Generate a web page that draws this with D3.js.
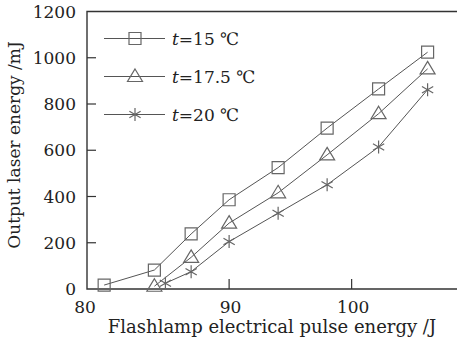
<!DOCTYPE html>
<html lang="en">
<head>
  <meta charset="UTF-8">
  <title>Output laser energy</title>
  <style type="text/css">
    body {
        margin: 0;
        padding: 0;
        background: #fff;
    }
    text {
        font-family: "DejaVu Serif", serif;
        fill: #222;
    }
  </style>
  <script src="https://cdn.jsdelivr.net/npm/d3@7"></script>
</head>
<body>
<div id="chart"></div>
<script>
// values (x axis drawn from ~78.4 J, the first label says 80)
var energy15  = [79.8, 83.9, 86.9, 90, 94, 98, 102.2, 106.2]
var output15  = [17, 82, 238, 386, 525, 696, 865, 1024]
var energy175 = [83.9, 86.9, 90, 94, 98, 102.2, 106.2]
var output175 = [12, 137, 285, 416, 580, 758, 952]
var energy20  = [84.8, 86.9, 90, 94, 98, 102.2, 106.2]
var output20  = [25, 75, 205, 328, 451, 614, 862]

var seriesNames = ["15", "17.5", "20"]
var markerKinds = ["square", "triangle", "star"]
var xTickValues = [90, 100]
var xTickLabels = ["90", "100"]
var yTickValues = [0, 200, 400, 600, 800, 1000, 1200]

var w = 457, h = 346
var plotL = 87, plotT = 11.5, plotR = 457, plotB = 289
var fs = 17

var svg = d3.select("#chart")
            .append("svg")
            .attr("width", w)
            .attr("height", h)

var x = d3.scaleLinear().domain([78.4, 108.6]).range([plotL, plotR])
var y = d3.scaleLinear().domain([0, 1200]).range([plotB, plotT])

// frame: left, bottom and top lines, no right side
svg.append("path")
   .attr("d", "M" + plotR + "," + plotT + "H" + plotL + "V" + plotB + "H" + plotR)
   .attr("fill", "none")
   .attr("stroke", "#333")
   .attr("stroke-width", 1.4)

// y ticks, inward
svg.selectAll(".ytick")
   .data(yTickValues.slice(1, -1))
   .enter()
   .append("line")
   .attr("x1", plotL).attr("x2", plotL + 9)
   .attr("y1", function(d) { return y(d) })
   .attr("y2", function(d) { return y(d) })
   .attr("stroke", "#333")
   .attr("stroke-width", 1.2)

svg.selectAll(".ylab")
   .data(yTickValues)
   .enter()
   .append("text")
   .attr("x", plotL - 11)
   .attr("y", function(d) { return y(d) + 6 })
   .attr("text-anchor", "end")
   .attr("font-size", fs)
   .text(function(d) { return d })

// x ticks, inward
svg.selectAll(".xtick")
   .data(xTickValues)
   .enter()
   .append("line")
   .attr("x1", function(d) { return x(d) })
   .attr("x2", function(d) { return x(d) })
   .attr("y1", plotB).attr("y2", plotB - 10)
   .attr("stroke", "#333")
   .attr("stroke-width", 1.2)

svg.selectAll(".xlab")
   .data(xTickValues)
   .enter()
   .append("text")
   .attr("x", function(d) { return x(d) + 1.5 })
   .attr("y", 313)
   .attr("text-anchor", "middle")
   .attr("font-size", fs)
   .text(function(d, i) { return xTickLabels[i] })

// the "80" label sits under the corner of the axes
svg.append("text")
   .attr("x", x.range()[0] - 2)
   .attr("y", 313)
   .attr("text-anchor", "middle")
   .attr("font-size", fs)
   .text("80")

svg.append("text")
   .attr("x", 272)
   .attr("y", 333)
   .attr("text-anchor", "middle")
   .attr("font-size", 18)
   .text("Flashlamp electrical pulse energy /J")

svg.append("text")
   .attr("transform", "translate(20,145) rotate(-90)")
   .attr("text-anchor", "middle")
   .attr("font-size", fs)
   .text("Output laser energy /mJ")

// marker shapes
var markerPath = function(kind) {
  if (kind == "square") return "M-6,-6H6V6H-6Z"
  if (kind == "triangle") return "M0,-7.5L7.5,5L-7.5,5Z"
  var p = ""
  ;[90, 30, 150].forEach(function(a) {
    var r = a * Math.PI / 180, dx = 6.5 * Math.cos(r), dy = 6.5 * Math.sin(r)
    p += "M" + (-dx) + "," + (-dy) + "L" + dx + "," + dy
  })
  return p
}

var series = [
  {xs: energy15,  ys: output15},
  {xs: energy175, ys: output175},
  {xs: energy20,  ys: output20}
]

var line = d3.line()
             .x(function(d) { return x(d[0]) })
             .y(function(d) { return y(d[1]) })

series.forEach(function(s, k) {
  var pts = d3.zip(s.xs, s.ys)
  svg.append("path")
     .attr("d", line(pts))
     .attr("fill", "none")
     .attr("stroke", "#555")
     .attr("stroke-width", 1)

  svg.selectAll(".m" + k)
     .data(pts)
     .enter()
     .append("path")
     .attr("transform", function(d) { return "translate(" + x(d[0]) + "," + y(d[1]) + ")" })
     .attr("d", markerPath(markerKinds[k]))
     .attr("fill", "none")
     .attr("stroke", "#666")
     .attr("stroke-width", 1.2)
})

// legend
var legend = svg.append("g")
seriesNames.forEach(function(name, k) {
  var ly = 38.5 + k * 38
  legend.append("line")
        .attr("x1", 104).attr("x2", 165)
        .attr("y1", ly).attr("y2", ly)
        .attr("stroke", "#555")
        .attr("stroke-width", 1)
  legend.append("path")
        .attr("transform", "translate(135," + ly + ")")
        .attr("d", markerPath(markerKinds[k]))
        .attr("fill", "none")
        .attr("stroke", "#666")
        .attr("stroke-width", 1.2)
  var t = legend.append("text")
        .attr("x", 172)
        .attr("y", ly + 6)
        .attr("font-size", fs)
  t.append("tspan").attr("font-style", "italic").text("t")
  t.append("tspan").text("=" + name + " \u2103")
})
</script>
</body>
</html>
